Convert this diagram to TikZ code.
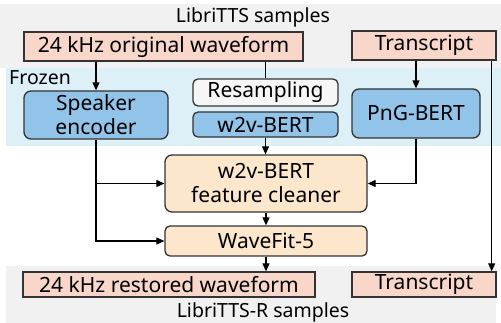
\documentclass[tikz,border=0pt]{standalone}
\usepackage{xcolor}
\usepackage{fontspec}
\setmainfont{Noto Sans}
\usepackage{tikz}
\usetikzlibrary{arrows.meta,positioning}
\definecolor{lrEdge}{HTML}{333333}
\definecolor{lrSalmon}{HTML}{F8D6CA}
\definecolor{lrBlue}{HTML}{92C4EA}
\definecolor{lrBand}{HTML}{DDEFF7}
\definecolor{lrGray}{HTML}{F1F1F1}
\definecolor{lrPeach}{HTML}{FCE7CC}
\definecolor{lrWhite}{HTML}{F6F6F6}
\tikzset{
  databox/.style={rectangle,draw=lrEdge,fill=lrSalmon,line width=1.3pt,
    inner sep=0pt,font=\fontsize{21}{24}\selectfont},
  frozenbox/.style={rectangle,draw=lrEdge,fill=lrBlue,rounded corners=7pt,line width=1.3pt,
    inner sep=0pt,align=center,font=\fontsize{21}{24}\selectfont},
  prepbox/.style={rectangle,draw=lrEdge,fill=lrWhite,rounded corners=5pt,line width=1.3pt,
    inner sep=0pt,font=\fontsize{21}{24}\selectfont},
  trainbox/.style={rectangle,draw=lrEdge,fill=lrPeach,rounded corners=7pt,line width=1.3pt,
    inner sep=0pt,align=center,font=\fontsize{21}{24}\selectfont},
  bandlabel/.style={inner sep=0pt,font=\fontsize{19.5}{22}\selectfont},
  arrow/.style={-{Triangle[length=8pt,width=7pt]},line width=1.1pt}
}
\begin{document}
\begin{tikzpicture}[x=1pt,y=-1pt]
  \useasboundingbox (0,0) rectangle (501,323);
  % bands
  \fill[lrGray] (0,4) rectangle (501,68);
  \fill[lrBand] (6,68) rectangle (501,146);
  \fill[lrGray] (6,266) rectangle (496,323);
  \node[bandlabel] (src) at (253,17) {LibriTTS samples};
  \node[bandlabel] (dst) at (263,312) {LibriTTS-R samples};
  \node[bandlabel,anchor=west] (frozen) at (9,78) {Frozen};
  % boxes
  \node[databox,minimum width=279pt,minimum height=29pt] (orig) at (163.5,46.5) {24 kHz original waveform};
  \node[databox,minimum width=144pt,minimum height=29pt] (trtop) at (424,45.5) {Transcript};
  \node[frozenbox,minimum width=144pt,minimum height=48pt] (spk) at (96,115) {Speaker\\encoder};
  \node[prepbox,minimum width=145pt,minimum height=27pt] (resamp) at (265.5,92.5) {Resampling};
  \node[frozenbox,rounded corners=5pt,minimum width=145pt,minimum height=25pt] (w2v) at (265.5,124.5) {w2v-BERT};
  \node[frozenbox,minimum width=128pt,minimum height=49pt] (png) at (416,113.5) {PnG-BERT};
  \node[trainbox,minimum width=202pt,minimum height=57pt] (cleaner) at (266,183.5) {w2v-BERT\\feature cleaner};
  \node[trainbox,rounded corners=5pt,minimum width=202pt,minimum height=30pt] (wavefit) at (266,241) {WaveFit-5};
  \node[databox,minimum width=292pt,minimum height=25pt] (restored) at (169,284.5) {24 kHz restored waveform};
  \node[databox,minimum width=144pt,minimum height=25pt] (trbot) at (424,284.5) {Transcript};
  % connectors
  \draw[arrow] (orig.south -| spk) -- (spk.north);
  \draw[line width=1.1pt] (orig.south -| resamp) -- (resamp.north);
  \draw[arrow] (w2v.south) -- (w2v.south |- cleaner.north);
  \draw[arrow] (trtop.south -| png) -- (png.north);
  \draw[arrow] (png.south) |- (cleaner.east);
  \draw[arrow] ([xshift=-5pt]trtop.south east) -- ([xshift=-5pt]trbot.north east);
  \draw[arrow] (spk.south) |- (cleaner.west);
  \draw[arrow] (spk.south) |- (wavefit.west);
  \draw[arrow] (cleaner.south) -- (wavefit.north);
  \draw[arrow] (wavefit.south) -- (wavefit.south |- restored.north);
\end{tikzpicture}
\end{document}
